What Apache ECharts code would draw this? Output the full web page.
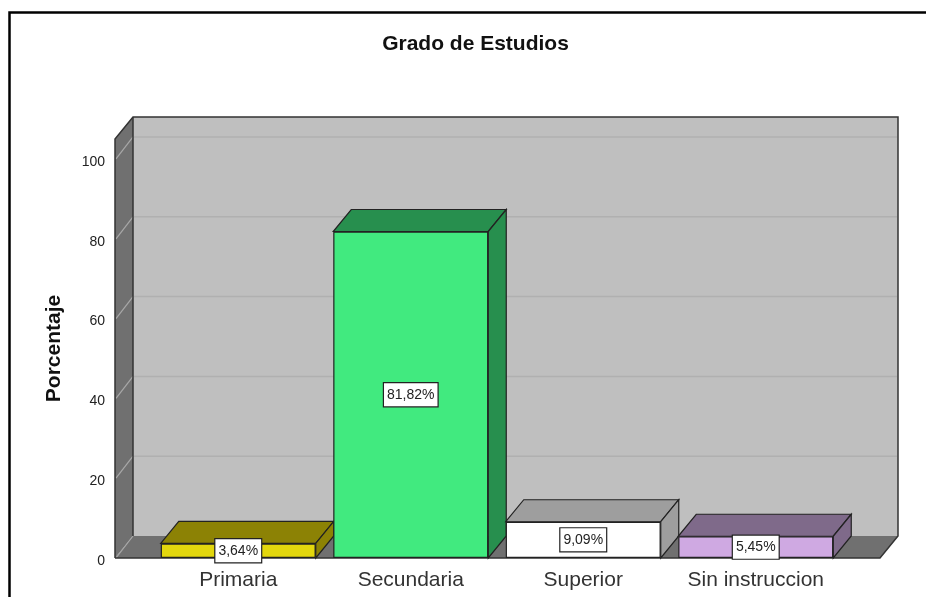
<!DOCTYPE html>
<html>
<head>
<meta charset="utf-8">
<style>
  html, body { margin: 0; padding: 0; background: #fff; }
  #chart { width: 926px; height: 597px; }
</style>
<script src="https://cdn.jsdelivr.net/npm/echarts@6/dist/echarts.min.js"></script>
</head>
<body>
<div id="chart"></div>
<script>
const categories = ["Primaria", "Secundaria", "Superior", "Sin instruccion"];
const percentages = [3.64, 81.82, 9.09, 5.45];
const valueLabels = ["3,64%", "81,82%", "9,09%", "5,45%"];
const yTicks = [0, 20, 40, 60, 80, 100];

const frontColors = ["#e3d70d", "#41ea7f", "#ffffff", "#cfa9e2"];
const depthColors = ["#8c8205", "#278f4e", "#9e9e9e", "#7f6a8a"];

// pseudo 3d look
const DX = 18;
const DY = 22;
const BAR_WIDTH = 155;
const EDGE = "#222";

const chart = echarts.init(document.getElementById("chart"));

function renderWalls(params, api) {
  const cs = params.coordSys;
  const left = cs.x - 37;
  const right = cs.x + cs.width + 38;
  const bottom = api.coord([0, 0])[1];
  const top = cs.y;
  const outline = { fill: null, stroke: "#333", lineWidth: 1.5 };
  const children = [
    {
      type: "polygon",
      shape: { points: [[left + DX, top - DY], [right + DX, top - DY], [right + DX, bottom - DY], [left + DX, bottom - DY]] },
      style: { fill: "#bfbfbf" },
    },
    {
      type: "polygon",
      shape: { points: [[left, top], [left + DX, top - DY], [left + DX, bottom - DY], [left, bottom]] },
      style: { fill: "#707070" },
    },
    {
      type: "polygon",
      shape: { points: [[left, bottom], [left + DX, bottom - DY], [right + DX, bottom - DY], [right, bottom]] },
      style: { fill: "#707070" },
    },
  ];
  yTicks.forEach((t) => {
    const y = api.coord([0, t])[1];
    children.push({
      type: "polyline",
      shape: { points: [[left + 1, y], [left + DX, y - DY]] },
      style: { fill: null, stroke: "#a8a8a8", lineWidth: 1.2 },
    });
    if (t > 0) {
      children.push({
        type: "polyline",
        shape: { points: [[left + DX + 1, y - DY], [right + DX - 1, y - DY]] },
        style: { fill: null, stroke: "#b0b0b0", lineWidth: 1.5 },
      });
    }
  });
  // no dark line along the back of the floor
  children.push(
    {
      type: "polyline",
      shape: { points: [[left, bottom], [left, top], [left + DX, top - DY], [right + DX, top - DY], [right + DX, bottom - DY], [right, bottom], [left, bottom]] },
      style: outline,
    },
    {
      type: "polyline",
      shape: { points: [[left + DX, top - DY], [left + DX, bottom - DY]] },
      style: outline,
    }
  );
  return { type: "group", children };
}

function renderDepth(params, api) {
  const p = api.coord([api.value(0), api.value(1)]);
  const base = api.coord([api.value(0), 0])[1];
  const x0 = p[0] - BAR_WIDTH / 2;
  const x1 = p[0] + BAR_WIDTH / 2;
  const y = p[1];
  const style = { fill: depthColors[params.dataIndex], stroke: EDGE, lineWidth: 1.2 };
  return {
    type: "group",
    children: [
      { type: "polygon", shape: { points: [[x0, y], [x0 + DX, y - DY], [x1 + DX, y - DY], [x1, y]] }, style },
      { type: "polygon", shape: { points: [[x1, y], [x1 + DX, y - DY], [x1 + DX, base - DY], [x1, base]] }, style },
    ],
  };
}

chart.setOption({
  animation: false,
  title: {
    text: "Grado de Estudios",
    left: 475.5,
    top: 34,
    padding: 0,
    textAlign: "center",
    textStyle: { fontFamily: "Liberation Sans", fontSize: 21, fontWeight: "bold", color: "#111" },
  },
  grid: { left: 152, right: 84, top: 139, bottom: 39 },
  xAxis: {
    type: "category",
    data: categories,
    axisLine: { show: false },
    axisTick: { show: false },
    axisLabel: { interval: 0, fontFamily: "Liberation Sans", fontSize: 21, color: "#333", margin: 12 },
  },
  yAxis: {
    type: "value",
    min: 0,
    max: 105,
    interval: 20,
    name: "Porcentaje",
    nameLocation: "middle",
    nameGap: 87,
    nameRotate: 90,
    nameTextStyle: { fontFamily: "Liberation Sans", fontSize: 21, fontWeight: "bold", color: "#111" },
    axisLine: { show: false },
    axisTick: { show: false },
    splitLine: { show: false },
    axisLabel: { fontFamily: "Liberation Sans", fontSize: 14, color: "#222", margin: 47, showMaxLabel: false, verticalAlign: "top", lineHeight: 6 },
  },
  series: [
    {
      type: "custom",
      z: 1,
      silent: true,
      renderItem: renderWalls,
      data: [[0, 0]],
    },
    {
      type: "custom",
      z: 2,
      silent: true,
      renderItem: renderDepth,
      data: percentages.map((v, i) => [i, v]),
    },
    {
      type: "bar",
      z: 3,
      barWidth: BAR_WIDTH,
      data: percentages.map((v, i) => ({
        value: v,
        itemStyle: { color: frontColors[i], borderColor: EDGE, borderWidth: 1.2 },
      })),
      label: {
        show: true,
        position: "inside",
        formatter: (p) => valueLabels[p.dataIndex],
        fontFamily: "Liberation Sans",
        fontSize: 14,
        color: "#222",
        backgroundColor: "#fff",
        borderColor: "#222",
        borderWidth: 1.2,
        padding: [5, 3, 4, 3],
      },
    },
  ],
  graphic: [
    {
      type: "polyline",
      silent: true,
      shape: { points: [[9.5, 597], [9.5, 12.5], [926, 12.5]] },
      style: { fill: null, stroke: "#000", lineWidth: 2.5 },
    },
  ],
});
</script>
</body>
</html>
